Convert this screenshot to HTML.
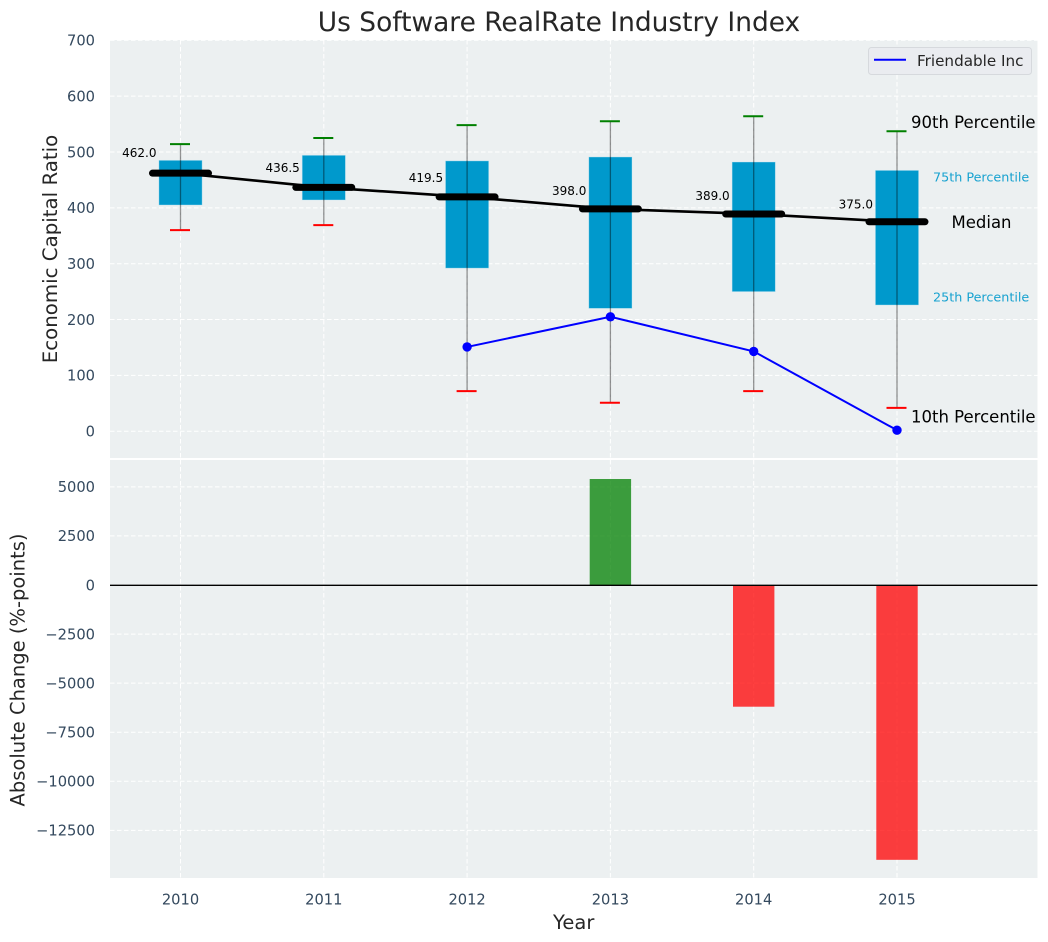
<!DOCTYPE html>
<html>
<head>
<meta charset="utf-8">
<title>Us Software RealRate Industry Index</title>
<style>
html,body{margin:0;padding:0;background:#fff;}
svg{display:block;font-family:"DejaVu Sans","Liberation Sans",sans-serif;}
</style>
</head>
<body>
<svg id="chart" xmlns="http://www.w3.org/2000/svg" width="1048" height="942" viewBox="0 0 1048 942">
  <rect x="110" y="40" width="927.5" height="418" fill="#ecf0f1"/>
  <rect x="110" y="460" width="927.5" height="418" fill="#ecf0f1"/>
  <g id="grid"></g>
  <g id="bars"></g>
  <line x1="110" x2="1037.5" y1="585.3" y2="585.3" stroke="#000" stroke-width="1.4"/>
  <g id="boxes"></g>
  <g id="ticks"></g>
  <g id="notes"></g>
  <text x="559" y="31" text-anchor="middle" font-size="26.45" fill="#262626">Us Software RealRate Industry Index</text>
  <text transform="translate(57,249) rotate(-90)" text-anchor="middle" font-size="19.8" fill="#262626">Economic Capital Ratio</text>
  <text transform="translate(24.5,670) rotate(-90)" text-anchor="middle" font-size="19.5" fill="#262626">Absolute Change (%-points)</text>
  <text x="573.7" y="929" text-anchor="middle" font-size="19.5" fill="#262626">Year</text>
  <g>
    <rect x="868.5" y="47.5" width="163" height="27" rx="3" fill="#eaecf0" stroke="#d6d9dd"/>
    <line x1="874" x2="906" y1="59.8" y2="59.8" stroke="#0000ff" stroke-width="2"/>
    <text x="917" y="66" font-size="15.2" fill="#262626">Friendable Inc</text>
  </g>
</svg>
<script>
const years = [2010, 2011, 2012, 2013, 2014, 2015];
const p10 = [360, 369, 72, 51, 72, 42];
const p25 = [405, 414, 292, 220, 250, 226];
const median = [462, 436.5, 419.5, 398, 389, 375];
const p75 = [485, 494, 484, 491, 482, 467];
const p90 = [514, 525, 548, 555, 564, 537];
const companyValues = [null, null, 151, 205, 143, 2];
const absoluteChange = [null, null, null, 5400, -6200, -14000];
const topTicks = [0, 100, 200, 300, 400, 500, 600, 700];
const bottomTicks = [5000, 2500, 0, -2500, -5000, -7500, -10000, -12500];

const NS = 'http://www.w3.org/2000/svg';
const xAxis = function (year) { return 180.5 + 143.3 * (year - 2010); };
const yTop = function (v) { return 431.3 - 0.5587 * v; };
const yBottom = function (v) { return 585 - 0.01963 * v; };

function make(tag, attrs, parent, text) {
  const el = document.createElementNS(NS, tag);
  Object.keys(attrs).forEach(function (k) { el.setAttribute(k, attrs[k]); });
  if (text !== undefined) el.textContent = text;
  parent.appendChild(el);
  return el;
}

const gridG = document.getElementById('grid');
const barsG = document.getElementById('bars');
const boxesG = document.getElementById('boxes');
const ticksG = document.getElementById('ticks');
const notesG = document.getElementById('notes');
const gridStyle = { stroke: '#ffffff', 'stroke-width': 1, 'stroke-dasharray': '4.5 2.5', fill: 'none' };

topTicks.forEach(function (t) {
  const y = yTop(t);
  const g = make('line', Object.assign({ x1: 110, x2: 1037.5, y1: y, y2: y }, gridStyle), gridG);
  
  
  const l = make('text', { x: 95, y: y + 5.3, 'text-anchor': 'end', 'font-size': 14.67, fill: '#34495e' }, ticksG, String(t));
  
  
});

bottomTicks.forEach(function (t) {
  const y = yBottom(t);
  const g = make('line', Object.assign({ x1: 110, x2: 1037.5, y1: y, y2: y }, gridStyle), gridG);
  
  
  const label = t < 0 ? '\u2212' + Math.abs(t) : String(t);
  const l = make('text', { x: 95, y: y + 5.3, 'text-anchor': 'end', 'font-size': 14.67, fill: '#34495e' }, ticksG, label);
  
  
});

years.forEach(function (yr) {
  const x = xAxis(yr);
  const g1 = make('line', Object.assign({ x1: x, x2: x, y1: 40, y2: 458 }, gridStyle), gridG);
  
  
  const g2 = make('line', Object.assign({ x1: x, x2: x, y1: 460, y2: 878 }, gridStyle), gridG);
  
  
  const l = make('text', { x: x, y: 904.5, 'text-anchor': 'middle', 'font-size': 14.67, fill: '#34495e' }, ticksG, String(yr));
  
  
});

absoluteChange.forEach(function (v, i) {
  if (v === null) return;
  const x = xAxis(years[i]);
  const y0 = yBottom(0);
  const y1 = yBottom(v);
  const b = make('rect', {
    x: x - 20.7, y: Math.min(y0, y1), width: 41.4, height: Math.abs(y1 - y0),
    fill: v >= 0 ? '#008000' : '#ff0000', 'fill-opacity': 0.75
  }, barsG);
  
  
});

years.forEach(function (yr, i) {
  const x = xAxis(yr);
  const box = make('rect', {
    x: x - 21.6, y: yTop(p75[i]), width: 43.2, height: yTop(p25[i]) - yTop(p75[i]),
    fill: '#0099cc', stroke: '#bfe5f2', 'stroke-opacity': 0.6, 'stroke-width': 0.7
  }, boxesG);
  
  
  const w = make('line', { x1: x, x2: x, y1: yTop(p90[i]), y2: yTop(p10[i]), stroke: '#000', 'stroke-opacity': 0.42, 'stroke-width': 1.3 }, boxesG);
  
  
  const hi = make('line', { x1: x - 10.5, x2: x + 9.5, y1: yTop(p90[i]), y2: yTop(p90[i]), stroke: '#008000', 'stroke-width': 2 }, boxesG);
  
  
  const lo = make('line', { x1: x - 10.5, x2: x + 9.5, y1: yTop(p10[i]), y2: yTop(p10[i]), stroke: '#ff0000', 'stroke-width': 2 }, boxesG);
  
  
});

const medianPath = median.map(function (v, i) { return xAxis(years[i]) + ',' + yTop(v); }).join(' ');
const medianLine = make('polyline', { points: medianPath, fill: 'none', stroke: '#000', 'stroke-width': 2.6 }, boxesG);



const companyPts = [];
companyValues.forEach(function (v, i) {
  if (v !== null) companyPts.push([xAxis(years[i]), yTop(v)]);
});
const companyLine = make('polyline', {
  points: companyPts.map(function (p) { return p.join(','); }).join(' '),
  fill: 'none', stroke: '#0000ff', 'stroke-width': 2
}, boxesG);


companyPts.forEach(function (p) {
  const c = make('circle', { cx: p[0], cy: p[1], r: 4.7, fill: '#0000ff' }, boxesG);
  
  
});

years.forEach(function (yr, i) {
  const x = xAxis(yr);
  const y = yTop(median[i]);
  const m = make('line', { x1: x - 28, x2: x + 28, y1: y, y2: y, stroke: '#000', 'stroke-width': 7, 'stroke-linecap': 'round' }, boxesG);
  
  
  const t = make('text', { x: x - 24, y: y - 16 + (462 - median[i]) * 0.03, 'text-anchor': 'end', 'font-size': 12, fill: '#000' }, notesG, median[i].toFixed(1));
  
  
});

const last = years.length - 1;
const lx = xAxis(years[last]);
const n90 = make('text', { x: lx + 14, y: yTop(p90[last]) - 3.5, 'font-size': 16.5, fill: '#000' }, notesG, '90th Percentile');


const n75 = make('text', { x: lx + 36, y: yTop(p75[last]) + 11, 'font-size': 12.75, fill: '#0099cc', 'fill-opacity': 0.9 }, notesG, '75th Percentile');


const nMed = make('text', { x: lx + 54.5, y: yTop(median[last]) + 6, 'font-size': 16.5, fill: '#000' }, notesG, 'Median');


const n25 = make('text', { x: lx + 36, y: yTop(p25[last]) - 3.5, 'font-size': 12.75, fill: '#0099cc', 'fill-opacity': 0.9 }, notesG, '25th Percentile');


const n10 = make('text', { x: lx + 14, y: yTop(p10[last]) + 14.5, 'font-size': 16.5, fill: '#000' }, notesG, '10th Percentile');


</script>
</body>
</html>
